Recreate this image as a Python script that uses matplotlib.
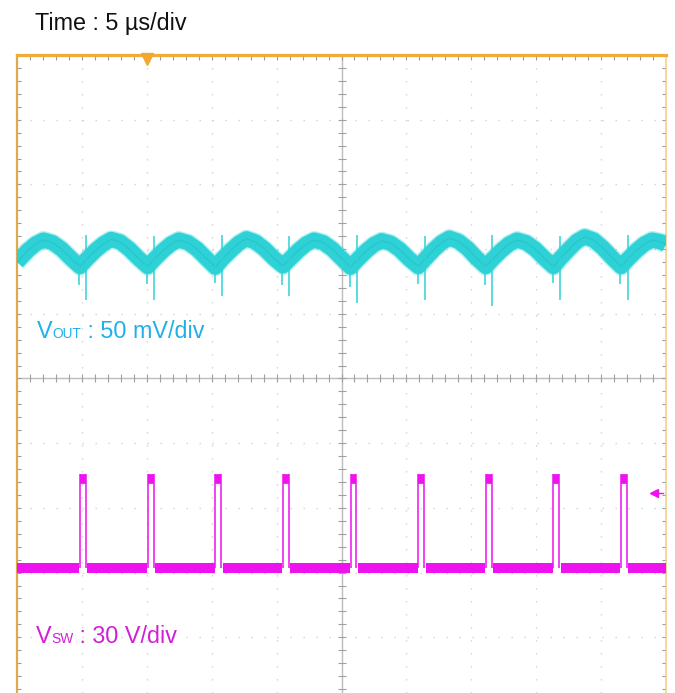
import matplotlib
matplotlib.use('Agg')
import matplotlib.pyplot as plt
import numpy as np

W, H, DPI = 675, 693, 100

# ---------------- data (read from the scope capture) ----------------
time_label = "Time : 5 µs/div"
vout_label = ["V", "OUT", " : 50 mV/div"]
vsw_label = ["V", "SW", " : 30 V/div"]

# V_OUT ripple trace centre (µs, mV relative to trace offset)
vout_t = [0.00, 0.84, 1.44, 2.04, 2.74, 3.44, 4.14, 4.85,
          5.35, 6.05, 6.65, 7.25, 7.95, 8.65, 9.35, 10.07,
          10.57, 11.27, 11.87, 12.47, 13.17, 13.87, 14.57, 15.28,
          15.78, 16.48, 17.08, 17.68, 18.38, 19.08, 19.78, 20.49,
          20.99, 21.69, 22.29, 22.89, 23.59, 24.29, 24.99, 25.70,
          26.20, 26.90, 27.50, 28.10, 28.80, 29.50, 30.20, 30.91,
          31.41, 32.11, 32.71, 33.31, 34.01, 34.71, 35.41, 36.12,
          36.62, 37.32, 37.92, 38.52, 39.22, 39.92, 40.62, 41.33,
          41.83, 42.53, 43.13, 43.73, 44.43, 45.13, 45.83, 46.54,
          47.04, 47.74, 48.34, 48.94, 49.64, 50.00]
vout_mv = [-7.0, 2.0, 7.0, 10.0, 8.0, 3.0, -4.0, -10.5,
           -5.0, 2.0, 7.0, 10.5, 8.5, 3.0, -4.0, -10.5,
           -5.0, 2.0, 7.0, 10.0, 8.0, 3.0, -4.0, -11.0,
           -5.0, 2.0, 7.5, 11.0, 8.5, 3.0, -4.0, -10.0,
           -5.0, 2.0, 7.0, 10.0, 8.0, 3.0, -4.0, -11.0,
           -5.5, 1.5, 6.5, 9.5, 7.5, 2.5, -4.5, -10.5,
           -5.0, 2.5, 8.0, 11.5, 9.0, 3.5, -4.0, -10.5,
           -5.0, 2.0, 7.0, 10.0, 8.0, 3.0, -4.0, -10.5,
           -4.5, 3.0, 9.0, 12.5, 10.0, 4.0, -3.5, -10.5,
           -5.0, 2.0, 7.0, 10.0, 8.5, 6.5]

# switching node pulses
sw_rise_us = [4.85, 10.07, 15.28, 20.49, 25.70, 30.91, 36.12, 41.33, 46.54]
sw_width_us = 0.45
sw_low_v = 0.0
sw_top_v = 41.5
sw_peak_v = 43.8

# V_OUT switching spikes (mV)
spike_fall_low = [-36.7, -36.7, -33.6, -33.6, -38.3, -36.7, -40.6, -36.7, -36.7]
spike_fall_high = [14.0, 13.0, 14.0, 13.0, 14.0, 13.0, 14.0, 13.0, 14.0]
spike_rise_low = [-25.0, -24.0, -23.0, -25.0, -26.0, -24.0, -25.0, -23.0, -24.0]

# channel scaling (divisions)
VOUT_MV_PER_DIV, VOUT_OFFSET = 50.0, 1.94
VSW_V_PER_DIV, VSW_OFFSET = 30.0, -2.93
trig_time_us = 10.0
trig_level_div = -1.775

# ---------------- figure ----------------
PX_PER_DIV_Y = 64.7
fig = plt.figure(figsize=(W / DPI, H / DPI), dpi=DPI, facecolor='white')
ax = fig.add_axes([17 / W, 0, 649 / W, 638 / H])
ytop = 5.0
ybot = ytop - 638 / PX_PER_DIV_Y
ax.set_xlim(0, 50)
ax.set_ylim(ybot, ytop)

# graticule: dotted division lines
dot = (0, (1, 8.36))
for k in range(1, 10):
    if k != 5:
        ax.axvline(5 * k, color='#d2d2d2', lw=1, ls=dot, zorder=1)
for k in range(-4, 5):
    if k != 0:
        ax.axhline(k, color='#d2d2d2', lw=1, ls=dot, zorder=1)

# centre cross with ticks
ax.axhline(0, color='#bcbcbc', lw=1, zorder=1.5)
ax.axvline(25, color='#bcbcbc', lw=1, zorder=1.5)
xt = np.arange(1, 50, 1)
ax.plot(xt, np.zeros_like(xt, dtype=float), ls='none', marker='|', ms=6,
        mew=0.8, color='#a0a0a0', zorder=1.6)
yt = np.arange(-4.8, 5.0, 0.2)
ax.plot(np.full_like(yt, 25.0), yt, ls='none', marker='_', ms=6,
        mew=0.8, color='#a0a0a0', zorder=1.6)

# border ticks
ax.set_xticks(xt)
ax.set_yticks(yt)
ax.tick_params(axis='x', which='both', top=True, bottom=False, labeltop=False,
               labelbottom=False, direction='in', length=3.8, width=0.8,
               color='#9a9a9a')
ax.tick_params(axis='y', which='both', left=True, right=True, labelleft=False,
               labelright=False, direction='in', length=3.2, width=0.8,
               color='#9a9a9a')

# spines
for s in ax.spines.values():
    s.set_visible(False)
ax.spines['top'].set_visible(True)
ax.spines['top'].set_color('#f0ac38')
ax.spines['top'].set_linewidth(2.3)
ax.spines['left'].set_visible(True)
ax.spines['left'].set_color('#deaa4e')
ax.spines['left'].set_linewidth(1.6)
ax.spines['right'].set_visible(True)
ax.spines['right'].set_color('#f4cc80')
ax.spines['right'].set_linewidth(1.1)

# ---------------- V_OUT trace ----------------
cyan = '#2ed2d6'
vt = np.array(vout_t)
vy = VOUT_OFFSET + np.array(vout_mv) / VOUT_MV_PER_DIV
ax.plot(vt, vy, color=cyan, lw=13, alpha=0.35, solid_joinstyle='round',
        solid_capstyle='butt', zorder=2.9)
ax.plot(vt, vy, color=cyan, lw=11, solid_joinstyle='round',
        solid_capstyle='butt', zorder=3)
ax.plot(vt, vy, color='#22bcc4', lw=1.0, alpha=0.5, zorder=3.1)
rise = np.array(sw_rise_us)
fall = rise + sw_width_us
ax.vlines(fall + 0.05, VOUT_OFFSET + np.array(spike_fall_low) / VOUT_MV_PER_DIV,
          VOUT_OFFSET + np.array(spike_fall_high) / VOUT_MV_PER_DIV,
          color=cyan, lw=1.1, zorder=3.2)
ax.vlines(rise - 0.05, VOUT_OFFSET + np.array(spike_rise_low) / VOUT_MV_PER_DIV,
          VOUT_OFFSET - 10.0 / VOUT_MV_PER_DIV, color=cyan, lw=1.1, zorder=3.2)

# ---------------- V_SW trace ----------------
mag = '#ee12ee'
lo = VSW_OFFSET + sw_low_v / VSW_V_PER_DIV
top = VSW_OFFSET + sw_top_v / VSW_V_PER_DIV
peak = VSW_OFFSET + sw_peak_v / VSW_V_PER_DIV
starts = np.concatenate([[0.0], fall + 0.12])
ends = np.concatenate([rise - 0.05, [50.0]])
ax.hlines(np.full_like(starts, lo), starts, ends, color=mag, lw=7.2, zorder=3)
ax.vlines(rise, lo, peak, color=mag, lw=1.1, zorder=3)
ax.vlines(fall, lo, peak, color=mag, lw=1.1, zorder=3)
ax.hlines(np.full_like(rise, top), rise, fall, color=mag, lw=7.0, zorder=3)

# markers
ax.plot([trig_time_us], [ytop - 4.5 / PX_PER_DIV_Y], marker='v', ms=8,
        color='#f2a830', ls='none', clip_on=False, zorder=5)
ax.plot([49.05, 49.75], [trig_level_div, trig_level_div], color=mag, lw=1, zorder=5)
ax.plot([49.05], [trig_level_div], marker='<', ms=6, color=mag, ls='none', zorder=5)

# ---------------- text ----------------
FONT = 'Liberation Sans'
BIG, SMALL = 16.8, 9.9
fig.text(35 / W, 1 - 30 / H, time_label, fontsize=BIG, family=FONT,
         color='#111111', va='baseline', ha='left')

renderer = fig.canvas.get_renderer()


def chain(x_px, base_px, parts, sizes, color):
    x = x_px
    for s, fs in zip(parts, sizes):
        t = fig.text(x / W, 1 - base_px / H, s, fontsize=fs, family=FONT,
                     color=color, va='baseline', ha='left')
        x += t.get_window_extent(renderer=renderer).width


chain(36.5, 338, vout_label, [BIG, SMALL, BIG], '#1fb0ea')
chain(35.5, 643, vsw_label, [BIG, SMALL, BIG], '#d020d6')

fig.savefig('out.png', dpi=DPI, facecolor='white')
